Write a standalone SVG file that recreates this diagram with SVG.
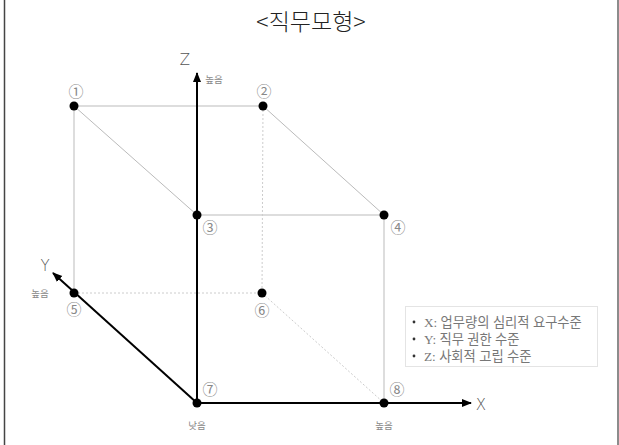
<svg xmlns="http://www.w3.org/2000/svg" width="619" height="445" viewBox="0 0 619 445">
<defs>
<marker id="ah" viewBox="0 0 10 10" refX="9" refY="5" markerWidth="10" markerHeight="10" markerUnits="userSpaceOnUse" orient="auto"><path d="M0,1 L10,5 L0,9 Z" fill="#000"/></marker>
<style>
.edge{stroke:#bbb;stroke-width:1;fill:none}
.dot{stroke:#ccc;stroke-width:1;stroke-dasharray:2,2;fill:none}
.axis{stroke:#000;stroke-width:2;fill:none}
.pt{fill:#000}
.num{font-family:"Liberation Serif","Noto Sans CJK KR",serif;font-size:15px;fill:#888;text-anchor:middle}
.lab{font-family:"Noto Sans CJK KR",sans-serif;font-size:9.5px;fill:#888;text-anchor:middle}
.ax{font-family:"DejaVu Sans",sans-serif;font-size:15px;font-weight:200;fill:#555;text-anchor:middle}
.leg{font-family:"Liberation Serif","Noto Sans CJK KR",serif;font-size:13.3px;fill:#777}
</style>
</defs>
<rect width="619" height="445" fill="#fff"/>
<line x1="4.5" y1="0" x2="4.5" y2="445" stroke="#444" stroke-width="1.5"/>
<line x1="618" y1="0" x2="618" y2="445" stroke="#666" stroke-width="1.5"/>
<text x="311" y="30" text-anchor="middle" font-family="'Noto Sans CJK KR',sans-serif" font-size="23" font-weight="300" fill="#222">&lt;직무모형&gt;</text>
<g id="connectors">
<line class="edge" x1="74" y1="106" x2="263" y2="106"/>
<line class="edge" x1="74" y1="106" x2="197" y2="215"/>
<line class="edge" x1="263" y1="106" x2="384" y2="215"/>
<line class="edge" x1="197" y1="215" x2="384" y2="215"/>
<line class="edge" x1="74" y1="106" x2="74" y2="293"/>
<line class="edge" x1="384" y1="215" x2="384" y2="403" stroke="#ddd"/>
<line class="dot" x1="263" y1="106" x2="262" y2="293"/>
<line class="dot" x1="74" y1="293" x2="262" y2="293"/>
<line class="dot" x1="262" y1="293" x2="384" y2="403"/>
<line class="axis" x1="197" y1="403" x2="197" y2="73" marker-end="url(#ah)"/>
<line class="axis" x1="197" y1="403" x2="471" y2="403" marker-end="url(#ah)"/>
<line class="axis" x1="197" y1="403" x2="53" y2="273" marker-end="url(#ah)"/>
</g>
<g id="n1"><circle class="pt" cx="74" cy="106" r="4.5"/><text class="num" x="76" y="97">①</text></g>
<g id="n2"><circle class="pt" cx="263" cy="106" r="4.5"/><text class="num" x="264" y="97">②</text></g>
<g id="n3"><circle class="pt" cx="197" cy="215" r="4.5"/><text class="num" x="210" y="233">③</text></g>
<g id="n4"><circle class="pt" cx="384" cy="215" r="4.5"/><text class="num" x="398" y="233">④</text></g>
<g id="n5"><circle class="pt" cx="74" cy="293" r="4.5"/><text class="num" x="74" y="315">⑤</text></g>
<g id="n6"><circle class="pt" cx="262" cy="293" r="4.5"/><text class="num" x="262" y="316">⑥</text></g>
<g id="n7"><circle class="pt" cx="197" cy="403" r="4.5"/><text class="num" x="210" y="395">⑦</text></g>
<g id="n8"><circle class="pt" cx="384" cy="403" r="4.5"/><text class="num" x="397" y="395">⑧</text></g>
<g id="axis-labels">
<text class="ax" x="185" y="65">Z</text>
<text class="lab" x="214" y="83">높음</text>
<text class="ax" x="45" y="271">Y</text>
<text class="lab" x="40" y="297">높음</text>
<text class="ax" x="481" y="410">X</text>
<text class="lab" x="197" y="429">낮음</text>
<text class="lab" x="384" y="429">높음</text>
</g>
<g id="legend">
<rect x="405.5" y="306.5" width="192" height="60" fill="#fff" stroke="#e4e4e4"/>
<circle cx="414" cy="322" r="1.4" fill="#333"/>
<circle cx="414" cy="339" r="1.4" fill="#333"/>
<circle cx="414" cy="356" r="1.4" fill="#333"/>
<text class="leg" x="424" y="326.5">X: 업무량의 심리적 요구수준</text>
<text class="leg" x="424" y="343.5">Y: 직무 권한 수준</text>
<text class="leg" x="424" y="360.5">Z: 사회적 고립 수준</text>
</g>
</svg>
